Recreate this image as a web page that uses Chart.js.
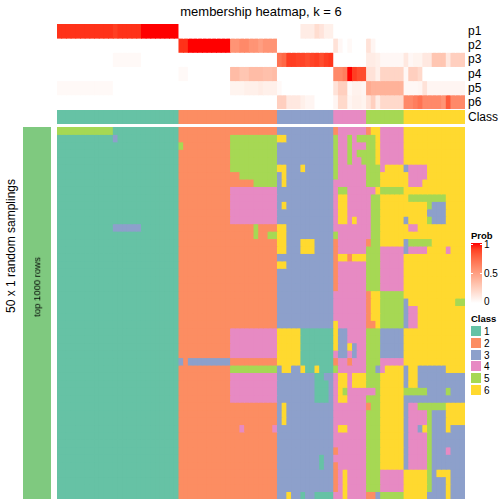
<!DOCTYPE html>
<html><head><meta charset="utf-8">
<script src="https://cdn.jsdelivr.net/npm/chart.js@4/dist/chart.umd.min.js"></script>
<style>
body{margin:0;width:504px;height:504px;position:relative;background:#fff;font-family:"Liberation Sans",Arial,sans-serif;overflow:hidden}
canvas{position:absolute}
.t{position:absolute;white-space:nowrap;color:#000;line-height:1}
.rot{transform:translate(-50%,-50%) rotate(-90deg)}
.sw{position:absolute;width:10px;height:10px}
</style></head><body>
<canvas id="probChart" width="408" height="85" style="left:57px;top:24px"></canvas>
<canvas id="classChart" width="408" height="14" style="left:57px;top:110px"></canvas>
<canvas id="mainChart" width="408" height="372" style="left:57px;top:127px"></canvas>
<canvas id="sideChart" width="28" height="372" style="left:23px;top:127px"></canvas>
<div id="txt"></div>
<script>
// ---------- DATA ----------
const rowLabels = ["p1","p2","p3","p4","p5","p6"];
const classLabels = ["1","2","3","4","5","6"];
const probTicks = [1, 0.5, 0];
const columnClass = [
 1,1,1,1,1,1,1,1,1,1,1,1,1,1,1,1,1,1,1,1,1,1,1,1,1,1,
 2,2,2,2,2,2,2,2,2,2,2,2,2,2,2,2,2,2,2,2,2,
 3,3,3,3,3,3,3,3,3,3,3,3,
 4,4,4,4,4,4,4,
 5,5,5,5,5,5,5,5,
 6,6,6,6,6,6,6,6,6,6,6,6,6];
const p1 = [0.93,0.93,0.93,0.93,0.93,0.93,0.93,0.93,0.93,0.93,0.93,0.93,0.9,0.93,0.93,0.93,0.93,0.93,1,1,1,1,1,1,1,1,
 0,0,0,0,0,0,0,0,0,0,0,0,0,0,0,0,0,0,0,0,0,
 0,0,0,0,0,0.1,0.1,0.1,0.18,0.14,0.08,0.08,
 0,0,0,0,0,0,0,
 0,0,0,0,0,0,0,0,
 0,0,0,0,0,0,0,0,0,0,0,0,0];
const p2 = [0,0,0,0,0,0,0,0,0,0,0,0,0,0,0,0,0,0,0,0,0,0,0,0,0,0,
 0.93,0.93,1,1,1,1,1,1,1,1,1,0.55,0.55,0.6,0.6,0.55,0.55,0.5,0.55,0.55,0.55,
 0,0,0,0,0,0,0,0,0,0,0,0,
 0.15,0.04,0,0.03,0,0,0,
 0.15,0.05,0,0,0,0,0,0,
 0,0,0,0,0,0,0,0,0,0,0,0,0];
const p3 = [0,0,0,0,0,0,0,0,0,0,0,0,0.03,0.03,0.03,0.03,0.03,0.03,0,0,0,0,0,0,0,0,
 0,0,0,0,0,0,0,0,0,0,0,0,0,0,0,0,0,0,0,0,0,
 0.7,0.75,0.9,0.9,0.88,0.88,0.85,0.88,0.9,0.85,0.9,0.92,
 0,0,0,0,0,0,0,
 0.1,0.1,0.08,0.04,0.04,0.04,0.04,0.04,
 0.12,0.04,0.06,0.06,0.12,0.12,0.3,0.3,0.3,0.12,0.25,0.25,0.25];
const p4 = [0,0,0,0,0,0,0,0,0,0,0,0,0,0,0,0,0,0,0,0,0,0,0,0,0,0,
 0.03,0.03,0,0,0,0,0,0,0,0,0,0.35,0.35,0.3,0.3,0.35,0.35,0.35,0.33,0.33,0.35,
 0,0,0,0,0,0,0,0,0,0,0,0,
 0.6,0.6,0.65,1,0.9,0.85,0.85,
 0.15,0.15,0.08,0.22,0.22,0.22,0.22,0.22,
 0.04,0.25,0.25,0.2,0,0,0,0,0,0,0,0,0];
const p5 = [0.03,0.03,0.03,0.03,0.03,0.03,0.03,0.03,0.03,0.03,0.03,0.03,0,0,0,0,0,0,0,0,0,0,0,0,0,0,
 0,0,0,0,0,0,0,0,0,0,0,0.06,0.06,0.06,0.08,0.08,0.08,0.1,0.08,0.08,0.08,
 0.03,0,0,0,0,0,0,0,0,0,0,0,
 0.15,0.25,0.25,0.03,0.07,0.07,0.05,
 0.45,0.4,0.4,0.4,0.4,0.4,0.4,0.4,
 0.04,0.04,0.04,0.05,0.15,0.05,0.05,0.05,0.05,0.05,0.05,0.05,0.05];
const p6 = [0,0,0,0,0,0,0,0,0,0,0,0,0,0,0,0,0,0,0,0,0,0,0,0,0,0,
 0,0,0,0,0,0,0,0,0,0,0,0,0,0,0,0,0,0,0,0,0,
 0.25,0.25,0.12,0.12,0.12,0.08,0.05,0.05,0,0,0,0,
 0.05,0.2,0.2,0.05,0.08,0.08,0.06,
 0.15,0.25,0.1,0.2,0.2,0.2,0.2,0.2,
 0.6,0.6,0.65,0.7,0.6,0.6,0.6,0.6,0.55,0.8,0.6,0.6,0.6];
// 50 random samplings x 87 samples, class per cell (row 0 at top)
const samplingRows = [
 "55555555555511111111111111"+"222222222222222222222"+"333333333333"+"2444444"+"26644444"+"6666666666666",
 "11111111111131111111111111"+"222222222225555555555"+"663333333333"+"5445455"+"55644444"+"6666666666666",
 "11111111111111111111111111"+"522222222225555555555"+"333333333333"+"5445444"+"55644444"+"6666666666666",
 "11111111111111111111111111"+"222222222225555555555"+"333333333333"+"5445455"+"55644444"+"6666666666666",
 "11111111111111111111111111"+"222222222225555555555"+"333333333333"+"5445445"+"55644444"+"6666666666666",
 "11111111111111111111111111"+"222222222225555555555"+"663336333333"+"5444444"+"55546666"+"3444466666666",
 "11111111111111111111111111"+"222222222222255555555"+"363333333333"+"5444444"+"55566666"+"6444466666666",
 "11111111111111111111111111"+"222222222222222255555"+"363333333333"+"4444444"+"55566666"+"6444666666666",
 "11111111111111111111111111"+"222222222224444444444"+"333333333333"+"4554444"+"44655555"+"6666666666666",
 "11111111111111111111111111"+"222222222224444444444"+"333333333333"+"4664444"+"45566666"+"6555555556666",
 "11111111111111111111111111"+"222222222224444444444"+"363333333333"+"4664444"+"45566666"+"6666653336666",
 "11111111111111111111111111"+"222222222224444444444"+"333333333333"+"4664444"+"45566666"+"6666633336666",
 "11111111111111111111111111"+"222222222224444444444"+"333333333333"+"4664644"+"45566666"+"3666653336666",
 "11111111111133333311111111"+"222222222222222252222"+"663333333333"+"4444444"+"45566666"+"6446666666666",
 "11111111111111111111111111"+"222222222222222252255"+"663333333333"+"5444444"+"45566666"+"6666666666666",
 "11111111111111111111111111"+"222222222222222222222"+"663336663333"+"2444444"+"25566666"+"3555556666666",
 "11111111111111111111111111"+"222222222222222222222"+"663336663333"+"2444444"+"55544444"+"3444466664666",
 "11111111111111111111111111"+"222222222222222222222"+"333333333333"+"2662666"+"55544444"+"6666666666666",
 "11111111111111111111111111"+"222222222222222222222"+"663333333333"+"2444444"+"55544444"+"6666666666666",
 "11111111111111111111111111"+"222222222222222222222"+"333333333333"+"2444444"+"55544444"+"6666666666666",
 "11111111111111111111111111"+"222222222222222222222"+"333333333333"+"2444444"+"55544444"+"6666666666666",
 "11111111111111111111111111"+"222222222222222222222"+"333333333333"+"2444444"+"55544444"+"6666666666666",
 "11111111111111111111111111"+"222222222222222222222"+"333333333333"+"4444444"+"26655555"+"6666666666666",
 "11111111111111111111111111"+"222222222222222222222"+"333333333333"+"4444444"+"26655555"+"3666666666655",
 "11111111111111111111111111"+"222222222222222222222"+"333333333333"+"4444444"+"26655555"+"3446666666666",
 "11111111111111111111111111"+"222222222222222222222"+"333333333333"+"4444444"+"26655555"+"3446666666666",
 "11111111111111111111111111"+"222222222222222222222"+"333333333333"+"6444444"+"22655555"+"3446666666666",
 "11111111111111111111111111"+"222222222224444444444"+"666661111111"+"6334444"+"55533333"+"6666666666666",
 "11111111111111111111111111"+"222222222224444444444"+"666661111111"+"6334444"+"55533333"+"6666666666666",
 "11111111111111111111111111"+"222222222224444444444"+"666661111111"+"6336344"+"55533333"+"6666666666666",
 "11111111111111111111111111"+"222222222224444444444"+"666661111111"+"4334344"+"55533333"+"6666666666666",
 "11111111111111111111111111"+"323333333332222222222"+"666661111111"+"2442444"+"55544444"+"6666666666666",
 "11111111111111111111111111"+"222222222225555555555"+"366336116111"+"5444444"+"55346666"+"3663333336666",
 "11111111111111111111111111"+"222222222224444444444"+"333333331133"+"4664666"+"55566666"+"3663333333333",
 "11111111111111111111111111"+"222222222224444444444"+"333333331113"+"4664666"+"55566666"+"3663333333333",
 "11111111111111111111111111"+"222222222224444444444"+"333333331113"+"4654444"+"44566666"+"5555533335333",
 "11111111111111111111111111"+"222222222224444444444"+"333333331113"+"4664444"+"55566666"+"3333333333333",
 "11111111111111111111111111"+"222222222222222222222"+"363333333333"+"4444444"+"25566666"+"3445555556666",
 "11111111111111111111111111"+"222222222222222222222"+"363333333333"+"4444444"+"55566666"+"3444453336666",
 "11111111111111111111111111"+"222222222222222222222"+"363333333333"+"4444444"+"55566666"+"3444453336666",
 "11111111111111111111111111"+"222222222222242222224"+"333333333333"+"4664444"+"55566666"+"3443653336333",
 "11111111111111111111111111"+"222222222222222222222"+"333333333333"+"4444444"+"55566666"+"3444453333333",
 "11111111111111111111111111"+"222222222222222222222"+"333333333333"+"4444444"+"55566666"+"3444453333333",
 "11111111111111111111111111"+"222222222222222222222"+"333333333333"+"2444444"+"55566666"+"3444453334333",
 "11111111111111111111111111"+"222222222222222222222"+"333333333133"+"4444444"+"55566666"+"3444453333333",
 "11111111111111111111111111"+"222222222222222222222"+"333333333133"+"2444444"+"55566666"+"3444453333333",
 "11111111111111111111111111"+"222222222222222222222"+"333333333333"+"2464444"+"55544444"+"6666653666333",
 "11111111111111111111111111"+"222222222222222222222"+"333333333333"+"2464444"+"55544444"+"6666653336333",
 "11111111111111111111111111"+"222222222222222222222"+"333333333333"+"2464444"+"55544444"+"6666653336333",
 "11111111111111111111111111"+"222222222222222222222"+"336331331111"+"4464444"+"22355555"+"6666633336333"
];

// ---------- STYLE ----------
const classColors = {1:"#66C2A5",2:"#FC8D62",3:"#8DA0CB",4:"#E78AC3",5:"#A6D854",6:"#FFD92F"};
const sideColor = "#7FC97F";
function probColor(v){
  const L = 100 + (53.2408 - 100)*v, A = 80.0925*v, B = 67.2032*v;
  const fy=(L+16)/116, fx=fy+A/500, fz=fy-B/200;
  const f=t=>{const t3=t*t*t;return t3>0.008856?t3:(t-16/116)/7.787;};
  const X=0.95047*f(fx), Y=f(fy), Z=1.08883*f(fz);
  let r=3.2404542*X-1.5371385*Y-0.4985314*Z, g=-0.9692660*X+1.8760108*Y+0.0415560*Z, b=0.0556434*X-0.2040259*Y+1.0572252*Z;
  const gm=c=>{c=Math.max(0,Math.min(1,c));return Math.round(255*(c<=0.0031308?12.92*c:1.055*Math.pow(c,1/2.4)-0.055));};
  return `rgb(${gm(r)},${gm(g)},${gm(b)})`;
}
const colLabels = columnClass.map((c,i)=>"s"+(i+1));
const baseOpts = (ymax)=>({
  animation:false, responsive:false, devicePixelRatio:1,
  layout:{padding:0},
  plugins:{legend:{display:false}, tooltip:{enabled:false}, title:{display:false}},
  scales:{x:{display:false, stacked:true, offset:true},
          y:{display:false, stacked:true, min:0, max:ymax, reverse:true}}
});
const cellDs = (colors)=>({data:colors.map(()=>1), backgroundColor:colors, borderWidth:0,
  barPercentage:1, categoryPercentage:1, inflateAmount:0.45});

const probs = [p1,p2,p3,p4,p5,p6];
new Chart(document.getElementById("probChart"), {type:"bar",
  data:{labels:colLabels, datasets:probs.map(p=>cellDs(p.map(probColor)))},
  options:baseOpts(6)});
new Chart(document.getElementById("classChart"), {type:"bar",
  data:{labels:colLabels, datasets:[cellDs(columnClass.map(c=>classColors[c]))]},
  options:baseOpts(1)});
new Chart(document.getElementById("mainChart"), {type:"bar",
  data:{labels:colLabels, datasets:samplingRows.map(r=>cellDs([...r].map(c=>classColors[c])))},
  options:baseOpts(samplingRows.length)});
new Chart(document.getElementById("sideChart"), {type:"bar",
  data:{labels:["top 1000 rows"], datasets:[cellDs([sideColor])]},
  options:baseOpts(1)});

// ---------- TEXT & LEGENDS ----------
const T = document.getElementById("txt");
function addText(s, css, cls){const d=document.createElement("div");d.className="t "+(cls||"");d.textContent=s;d.style.cssText=css;T.appendChild(d);return d;}
addText("membership heatmap, k = 6","left:261px;top:5px;font-size:13px;transform:translateX(-50%)");
rowLabels.forEach((l,i)=>addText(l,`left:468px;top:${24+85/6*i+85/12-6}px;font-size:12px`));
addText("Class","left:468px;top:111px;font-size:12px");
addText("50 x 1 random samplings","left:11px;top:246px;font-size:12px","rot");
addText("top 1000 rows","left:37px;top:287px;font-size:9.5px","rot");
addText("Prob","left:471px;top:231px;font-size:9.5px;font-weight:bold");
const g = document.createElement("div");
let stops=[];for(let i=0;i<=10;i++){stops.push(probColor(1-i/10)+" "+(i*10)+"%");}
g.style.cssText=`position:absolute;left:471px;top:243px;width:11px;height:60px;background:linear-gradient(${stops.join(",")})`;
T.appendChild(g);
[[244.5,"1"],[273.5,"0.5"],[302,"0"]].forEach(([y,s],i)=>{
  addText(probTicks[i].toString(),`left:484px;top:${y-5}px;font-size:10px`);
  if(i<2){const tk=document.createElement("div");tk.style.cssText=`position:absolute;left:471px;top:${y-0.5}px;width:2px;height:1px;background:#fff`;T.appendChild(tk);
  const tk2=document.createElement("div");tk2.style.cssText=`position:absolute;left:480px;top:${y-0.5}px;width:2px;height:1px;background:#fff`;T.appendChild(tk2);}
});
addText("Class","left:471px;top:314px;font-size:9.5px;font-weight:bold");
classLabels.forEach((c,i)=>{
  const s=document.createElement("div");s.className="sw";s.style.cssText+=`;left:471px;top:${326+i*11.8}px;background:${classColors[c]}`;T.appendChild(s);
  addText(c,`left:484px;top:${327+i*11.8}px;font-size:10px`);
});
</script>
</body></html>
